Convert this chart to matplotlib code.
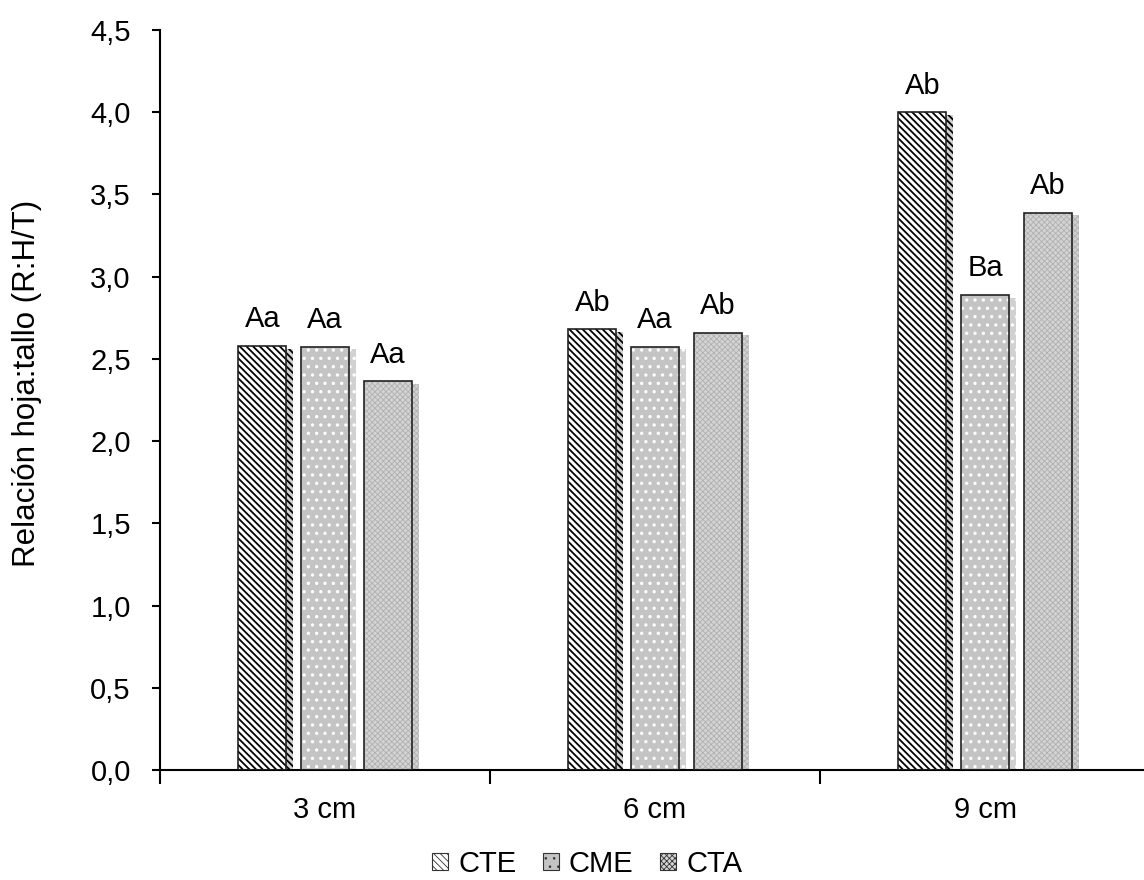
import matplotlib
matplotlib.use("Agg")
import matplotlib.pyplot as plt
import matplotlib.patheffects as pe
import numpy as np

plt.rcParams['font.family'] = ['Liberation Sans', 'DejaVu Sans']

categories = ["3 cm", "6 cm", "9 cm"]
series = ["CTE", "CME", "CTA"]
cte = [2.58, 2.68, 4.00]
cme = [2.575, 2.575, 2.89]
cta = [2.365, 2.66, 3.39]
lab_cte = ["Aa", "Ab", "Ab"]
lab_cme = ["Aa", "Aa", "Ba"]
lab_cta = ["Aa", "Ab", "Ab"]
yticks = [0.0, 0.5, 1.0, 1.5, 2.0, 2.5, 3.0, 3.5, 4.0, 4.5]

FS = 21
fig = plt.figure(figsize=(11.44, 8.8), dpi=100)
ax = fig.add_axes([160/1144, 110/880, 990/1144, 740/880])

x = np.arange(len(categories))
w = 0.145
step = 0.19
styles = [
    (1.3, dict(facecolor='white', edgecolor='black', hatch='\\\\\\\\\\')),
    (1.2, dict(facecolor='#c4c4c4', edgecolor='white', hatch='..')),
    (0.6, dict(facecolor='#d4d4d4', edgecolor='#b0b0b0', hatch='xxxxxx')),
]
shadow = [pe.SimplePatchShadow(offset=(5, -2), shadow_rgbFace='black', alpha=0.18), pe.Normal()]
handles = []
for i, (vals, labs, (hlw, st)) in enumerate(zip([cte, cme, cta], [lab_cte, lab_cme, lab_cta], styles)):
    plt.rcParams['hatch.linewidth'] = hlw
    pos = x + (i - 1) * step
    bars = ax.bar(pos, vals, w, zorder=2, linewidth=0, **st)
    for b in bars:
        b.set_path_effects(shadow)
    ax.bar(pos, vals, w, facecolor='none', edgecolor='#222222', linewidth=1.2, zorder=3)
    handles.append(bars[0])
    for p, v, t in zip(pos, vals, labs):
        ax.annotate(t, (p, v), xytext=(0, 9), textcoords='offset points',
                    ha='center', va='bottom', fontsize=FS)

ax.set_xlim(-0.5, 2.5)
ax.set_ylim(0, 4.5)
ax.set_yticks(yticks)
ax.set_yticklabels([f"{v:.1f}".replace('.', ',') for v in yticks], fontsize=FS)
ax.set_xticks([-0.5, 0.5, 1.5, 2.5])
ax.set_xticklabels([])
ax.set_xticks(x, minor=True)
ax.set_xticklabels(categories, minor=True, fontsize=FS)
ax.tick_params(axis='x', which='major', length=10, width=1.5, direction='out')
ax.tick_params(axis='x', which='minor', length=0, pad=19)
ax.tick_params(axis='y', length=6, width=1.5, direction='out', pad=15)
for s in ['top', 'right']:
    ax.spines[s].set_visible(False)
for s in ['left', 'bottom']:
    ax.spines[s].set_linewidth(1.5)
ax.set_ylabel("Relación hoja:tallo (R:H/T)", fontsize=22.5)
ax.yaxis.set_label_coords(-0.119, 0.522)

leg = fig.legend(handles, series, loc='center', bbox_to_anchor=(587/1144, 1 - 864/880),
                 ncol=3, frameon=False, fontsize=FS, handlelength=0.55, handleheight=0.55,
                 handletextpad=0.35, columnspacing=0.9, borderpad=0, borderaxespad=0)
for h in leg.legend_handles:
    h.set_path_effects([])
    h.set_linewidth(0.8)
    h.set_edgecolor('#333333')

fig.savefig("out.png", dpi=100)
